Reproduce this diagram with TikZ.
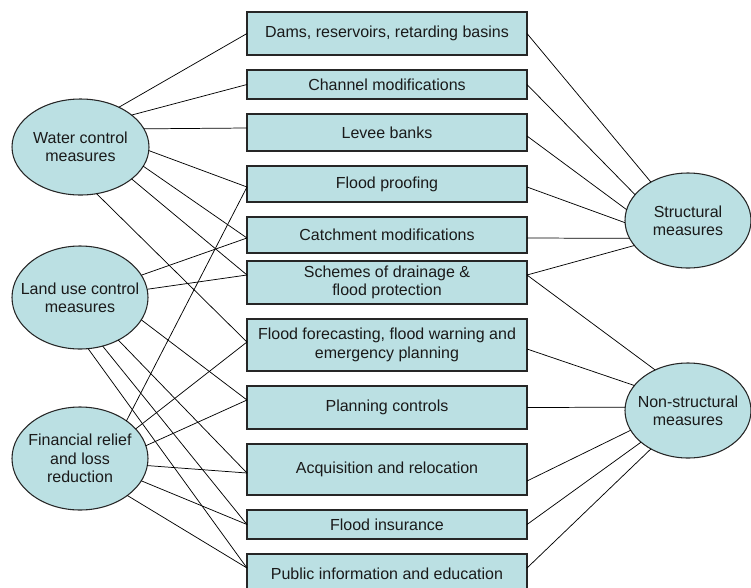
\documentclass[tikz,border=0pt]{standalone}
\usepackage{fontspec}
\setmainfont{Liberation Sans}
\usetikzlibrary{shapes.geometric,calc}
\definecolor{paleteal}{HTML}{BBE0E3}
\definecolor{edgegray}{HTML}{262626}
\definecolor{inkgray}{HTML}{1A1A1A}
\begin{document}
\begin{tikzpicture}[x=0.75pt,y=-0.75pt,
  txt/.style={font=\fontsize{12pt}{14pt}\selectfont, text=inkgray, align=center},
  itembox/.style={draw=edgegray, fill=paleteal, line width=0.8pt, rectangle,
    inner sep=0pt, outer sep=0pt, minimum width=210pt, minimum height=#1*0.75pt, txt},
  oval/.style 2 args={draw=edgegray, fill=paleteal, line width=0.8pt, ellipse,
    inner sep=0pt, outer sep=0pt, minimum width=#1*0.75pt, minimum height=#2*0.75pt},
  ovaltext/.style={txt, font=\fontsize{12pt}{13.7pt}\selectfont},
  link/.style={draw=black, line width=0.55pt}]
\clip (0,0) rectangle (751,587);

% measure boxes in the middle column
\node[itembox=43] (dams)     at (387,33.5)  {Dams, reservoirs, retarding basins};
\node[itembox=29] (channel)  at (387,84.5)  {Channel modifications};
\node[itembox=37] (levee)    at (387,132.5) {Levee banks};
\node[itembox=36] (proof)    at (387,184)   {Flood proofing};
\node[itembox=36] (catch)    at (387,235)   {Catchment modifications};
\node[itembox=43] (scheme)   at (387,282.5) {Schemes of drainage \&\\flood protection};
\node[itembox=52] (forecast) at (387,345)   {Flood forecasting, flood warning and\\emergency planning};
\node[itembox=43] (planning) at (387,407.5) {Planning controls};
\node[itembox=51] (acq)      at (387,469.5) {Acquisition and relocation};
\node[itembox=29] (insur)    at (387,524.5) {Flood insurance};
\node[itembox=40] (public)   at (387,574)   {Public information and education};

% groupings on the left
\node[oval={137}{96}]  (water) at (80.5,147) {};
\node[ovaltext] (water-t) at (water) {Water control\\measures};
\node[oval={136}{103}] (land)  at (80,297.5) {};
\node[ovaltext] (land-t) at (land) {Land use control\\measures};
\node[oval={136}{103}] (fin)   at (80,458.5) {};
\node[ovaltext] (fin-t) at (fin) {Financial relief\\and loss\\reduction};

% classes on the right
\node[oval={126}{95}] (struct)    at (688,220.5) {};
\node[ovaltext] (struct-t) at (struct) {Structural\\measures};
\node[oval={126}{95}] (nonstruct) at (688,410.5) {};
\node[ovaltext] (nonstruct-t) at (nonstruct) {Non-structural\\measures};

% water control links
\draw[link] (water.46.8)  -- (dams.west);
\draw[link] (water.32.2)  -- (channel.west);
\draw[link] (water.16.4)  -- ($(levee.west)+(0,-4.5)$);
\draw[link] (water.-3.3)  -- ($(proof.west)+(0,3)$);
\draw[link] (water.-17.2) -- ($(catch.west)+(0,3)$);
\draw[link] (water.-32.2) -- ($(scheme.west)+(0,-7.5)$);
\draw[link] (water.-71.7) -- ($(forecast.west)+(0,-3)$);

% land use control links
\draw[link] (land.20.5)  -- ($(catch.west)+(0,3)$);
\draw[link] (land.7)     -- ($(scheme.west)+(0,-7.5)$);
\draw[link] (land.-20.8) -- ($(planning.west)+(0,-7.5)$);
\draw[link] (land.-48.9) -- ($(acq.west)+(0,3.5)$);
\draw[link] (land.-65.9) -- (insur.west);
\draw[link] (land.-81.2) -- ($(public.west)+(0,-6)$);

% financial relief links
\draw[link] (fin.39.3)  -- ($(proof.west)+(0,3)$);
\draw[link] (fin.28.9)  -- ($(forecast.west)+(0,-3)$);
\draw[link] (fin.11.9)  -- ($(planning.west)+(0,-7.5)$);
\draw[link] (fin.-6.2)  -- ($(acq.west)+(0,3.5)$);
\draw[link] (fin.-20.5) -- (insur.west);
\draw[link] (fin.-38.7) -- ($(public.west)+(0,-6)$);

% structural links
\draw[link] (dams.east) -- (struct.134.6);
\draw[link] (channel.east) -- (struct.154.3);
\draw[link] ($(levee.east)+(0,3.5)$) -- (struct.170.2);
\draw[link] ($(proof.east)+(0,3)$) -- (struct.182.3);
\draw[link] ($(catch.east)+(0,3)$) -- (struct.197);
\draw[link] ($(scheme.east)+(0,-7.5)$) -- (struct.205.7);

% non-structural links
\draw[link] ($(scheme.east)+(0,-7.5)$) -- (nonstruct.129.2);
\draw[link] ($(forecast.east)+(0,4)$) -- (nonstruct.155.1);
\draw[link] (planning.east) -- (nonstruct.177);
\draw[link] ($(acq.east)+(0,11.5)$) -- (nonstruct.199.2);
\draw[link] (insur.east) -- (nonstruct.214.9);
\draw[link] ($(public.east)+(0,-6)$) -- (nonstruct.226);
\end{tikzpicture}
\end{document}
